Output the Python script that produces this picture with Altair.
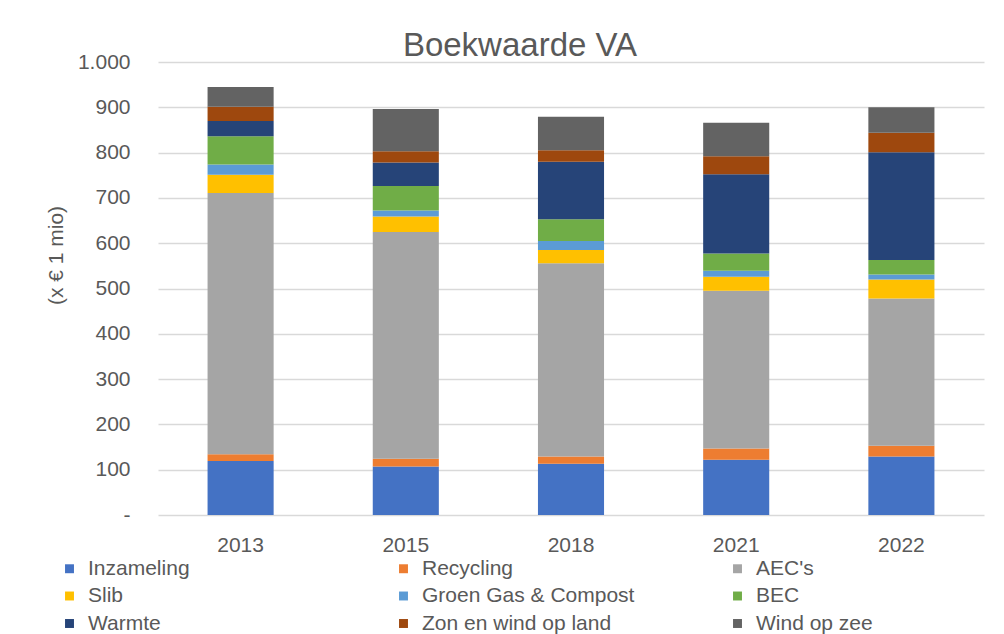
import altair as alt
import pandas as pd

years = ["2013", "2015", "2018", "2021", "2022"]
series = ["Inzameling", "Recycling", "AEC's", "Slib", "Groen Gas & Compost",
          "BEC", "Warmte", "Zon en wind op land", "Wind op zee"]
colors = ["#4472C4", "#ED7D31", "#A5A5A5", "#FFC000", "#5B9BD5",
          "#70AD47", "#264478", "#9E480E", "#636363"]

inzameling = [119, 107, 113, 122, 129]
recycling = [15, 17, 16, 25, 24]
aecs = [577, 501, 427, 348, 325]
slib = [40, 34, 29, 31, 42]
groengas = [23, 13, 20, 13, 11]
bec = [62, 54, 48, 38, 32]
warmte = [34, 52, 127, 175, 238]
zonwind = [31, 25, 25, 40, 43]
windzee = [44, 93, 74, 74, 56]

values = [inzameling, recycling, aecs, slib, groengas, bec, warmte, zonwind, windzee]

rows = []
for si, (name, vals) in enumerate(zip(series, values)):
    for yr, v in zip(years, vals):
        rows.append({"jaar": yr, "categorie": name, "waarde": v, "volgorde": si})
df = pd.DataFrame(rows)

FONT = "Liberation Sans"
GREY = "#595959"

chart = alt.Chart(df).mark_bar().encode(
    x=alt.X("jaar:N", sort=years,
            scale=alt.Scale(paddingInner=0.6, paddingOuter=0.3),
            axis=alt.Axis(title=None, labelAngle=0, labelFontSize=21, labelColor=GREY,
                          labelFont=FONT, ticks=False, domain=False, labelPadding=19)),
    y=alt.Y("sum(waarde):Q",
            scale=alt.Scale(domain=[0, 1000], nice=False),
            axis=alt.Axis(title="(x € 1 mio)", values=list(range(0, 1001, 100)),
                          labelExpr="datum.value == 0 ? '-' : replace(format(datum.value, ','), ',', '.')",
                          labelFontSize=21, labelColor=GREY, labelFont=FONT,
                          labelPadding=28, ticks=False, domain=False,
                          gridColor="#d9d9d9", gridWidth=1.5,
                          titleFontSize=21, titleFont=FONT, titleColor=GREY,
                          titleFontWeight="normal", titleX=-102, titleY=193,
                          titleBaseline="middle", titleAlign="center", titleAngle=-90)),
    color=alt.Color("categorie:N", sort=series,
                    scale=alt.Scale(domain=series, range=colors),
                    legend=alt.Legend(title=None, orient="none", legendX=-99, legendY=496,
                                      direction="horizontal",
                                      columns=3, gridAlign="all", columnPadding=92,
                                      rowPadding=5.5, symbolType="square", symbolSize=80,
                                      symbolStrokeWidth=0, labelFontSize=21, labelFont=FONT,
                                      labelColor=GREY, labelOffset=8, padding=0,
                                      labelLimit=400)),
    order=alt.Order("volgorde:Q", sort="ascending"),
).properties(
    width=826,
    height=453,
    title=alt.TitleParams("Boekwaarde VA", fontSize=33, font=FONT, color=GREY,
                          fontWeight="normal", anchor="middle", dx=-51, dy=16, offset=4),
    autosize=alt.AutoSizeParams(type="none"),
    padding={"left": 150, "top": 54, "right": 10, "bottom": 125},
).configure_view(stroke=None)

chart.save("out.html", embed_options={"renderer": "svg", "actions": False})
